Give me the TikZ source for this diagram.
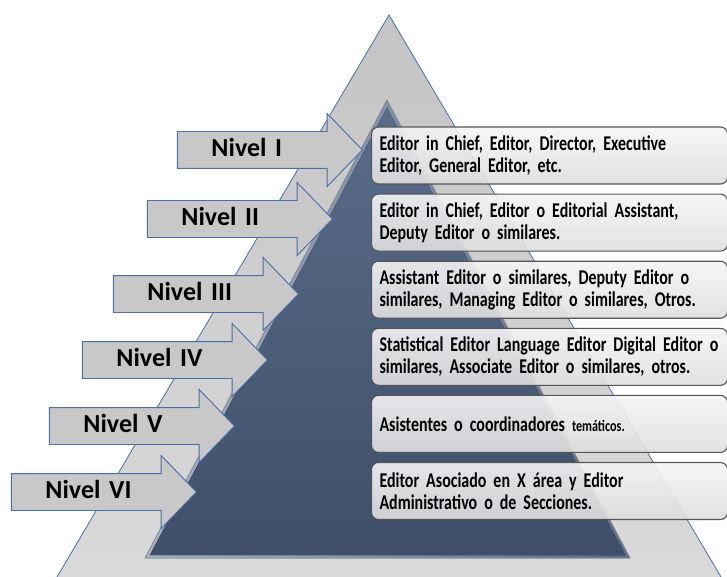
\documentclass[tikz,border=0pt]{standalone}
\usepackage{fontspec}
\newfontfamily\calibri{Carlito}
\newfontfamily\agency[FakeStretch=0.76]{Carlito}
\usepackage{tikz}
\usetikzlibrary{positioning,shapes.arrows}
\definecolor{bordeazul}{HTML}{4A6EA8}
\definecolor{grisflecha}{HTML}{C8C8C8}
\definecolor{grisarriba}{HTML}{C4C4C4}
\definecolor{grisabajo}{HTML}{DADADA}
\definecolor{pizarra}{HTML}{3F4F69}
\definecolor{pizarraclara}{HTML}{5A6C8A}
\definecolor{bisel}{HTML}{A3B3C8}
\definecolor{bordecaja}{HTML}{555555}

\begin{document}
\begin{tikzpicture}[x=1pt, y=-1pt, node distance=9pt,
nivel/.style={single arrow, draw=bordeazul, fill=grisflecha, line width=0.9pt, anchor=tip,
  single arrow head extend=18pt, single arrow tip angle=92, minimum height=185pt,
  text width=99pt, align=left, inner xsep=4pt, inner ysep=6.5pt,
  text height=18pt, text depth=5pt,
  font=\calibri\bfseries\fontsize{26}{28}\selectfont},
cargo/.style={draw=bordecaja, line width=1.1pt, rounded corners=7pt, top color=black!4,
  bottom color=black!13, fill opacity=.9, text opacity=1, minimum height=57pt,
  text width=340pt, inner xsep=8pt, align=left,
  font=\agency\bfseries\fontsize{21}{22}\selectfont}
]
\clip (0,0) rectangle (727,577);

% piramide
\draw[bordeazul, line width=0.8pt, top color=grisarriba, bottom color=grisabajo]
  (389,15) -- (728.7,590) -- (49.3,590) -- cycle;
\fill[left color=bisel, right color=pizarraclara, draw=black!45, line width=0.8pt]
  (387,100) -- (630,558) -- (145,558) -- cycle;
\fill[top color=pizarraclara, bottom color=pizarra] (387,108) -- (625,555) -- (150,555) -- cycle;

% cargos
\node (c1) [cargo, anchor=west] at (371,155.5) {Editor in Chief, Editor, Director, Executive\\Editor, General Editor, etc.};
\node (c2) [cargo, below=of c1] {Editor in Chief, Editor o Editorial Assistant,\\Deputy Editor o similares.};
\node (c3) [cargo, below=of c2] {Assistant Editor o similares, Deputy Editor o\\similares, Managing Editor o similares, Otros.};
\node (c4) [cargo, below=of c3] {\makebox[335pt][s]{Statistical Editor Language Editor Digital Editor o}\\similares, Associate Editor o similares, otros.};
\node (c5) [cargo, below=of c4] {Asistentes o coordinadores {\fontsize{16}{17}\selectfont tem\'aticos.}};
\node (c6) [cargo, below=of c5] {Editor Asociado en X \'area y Editor\\Administrativo o de Secciones.};

% niveles
\node (n1) [nivel] at (363,150) {Nivel I};
\node (n2) [nivel] at (333,219) {Nivel II};
\node (n3) [nivel] at (299,294) {Nivel III};
\node (n4) [nivel] at (268,360) {Nivel IV};
\node (n5) [nivel] at (235,426) {Nivel V};
\node (n6) [nivel] at (197,492) {Nivel VI};

\end{tikzpicture}
\end{document}
